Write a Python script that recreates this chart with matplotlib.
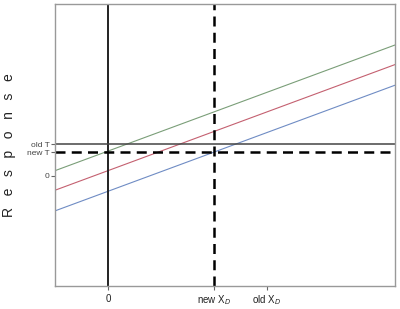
import matplotlib
matplotlib.use("Agg")
import matplotlib.pyplot as plt
import numpy as np

plt.rcParams['font.family'] = ['Liberation Sans', 'DejaVu Sans']

# positions on the x axis
x_ticks = [0, 2, 3]
x_labels = ['0', 'new X$_D$', 'old X$_D$']
new_xd = 2

# positions on the y axis
y_ticks = [0, 0.45, 0.6]
y_labels = ['0', 'new T', 'old T']
old_t = 0.6
new_t = 0.45

# three parallel response lines
slope = 0.37
intercepts = [0.47, 0.10, -0.29]
line_colors = ['#7a9e78', '#c46070', '#6f8cc4']

xmin, xmax = -1, 5.42
ymin, ymax = -2.08, 3.25

fig = plt.figure(figsize=(4, 3.09), dpi=100)
ax = fig.add_axes([0.1375, 0.0744, 0.85, 0.9126])

xs = np.array([xmin, xmax])
for b, c in zip(intercepts, line_colors):
    ax.plot(xs, b + slope * xs, color=c, lw=0.8)

ax.axvline(0, color='#222222', lw=1.4)
ax.axvline(new_xd, color='black', lw=1.8, ls=(0, (4, 2.5)))
ax.axhline(old_t, color='#444444', lw=1.1)
ax.axhline(new_t, color='black', lw=1.8, ls=(0, (4, 2.5)))

ax.set_xlim(xmin, xmax)
ax.set_ylim(ymin, ymax)
ax.set_xticks(x_ticks)
ax.set_xticklabels(x_labels, fontsize=7, color='#222222')
ax.set_yticks(y_ticks)
ax.set_yticklabels(y_labels, fontsize=6, color='#444444')
ax.tick_params(axis='x', length=3, width=0.8, color='#666666', pad=2.5)
ax.tick_params(axis='y', length=3, width=0.8, color='#666666', pad=1)
for s in ax.spines.values():
    s.set_color('#999999')
    s.set_linewidth(1)

# spaced-out axis title, placed by hand in figure coords
fig.text(0.023, 0.53, 'R   e   s   p   o   n   s   e', rotation=90,
         fontsize=10, color='#222222', ha='center', va='center')

fig.savefig('out.png', dpi=100)
